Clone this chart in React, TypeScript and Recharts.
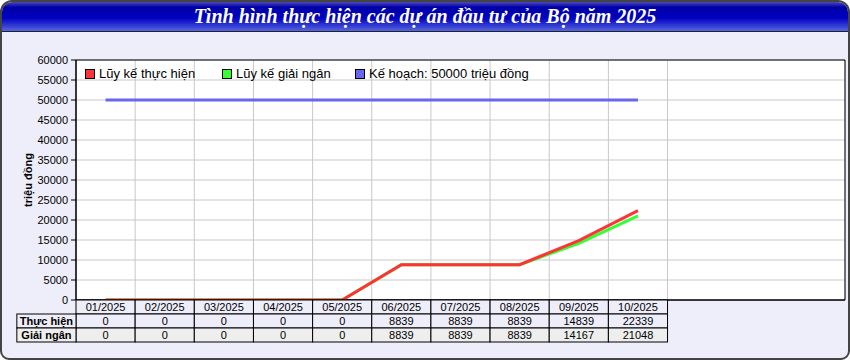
import React from "react";
import {
  LineChart,
  Line,
  XAxis,
  YAxis,
  CartesianGrid,
  Legend,
  ReferenceArea,
} from "recharts";

const months = [
  "01/2025",
  "02/2025",
  "03/2025",
  "04/2025",
  "05/2025",
  "06/2025",
  "07/2025",
  "08/2025",
  "09/2025",
  "10/2025",
];
const thucHien = [0, 0, 0, 0, 0, 8839, 8839, 8839, 14839, 22339];
const giaiNgan = [0, 0, 0, 0, 0, 8839, 8839, 8839, 14167, 21048];
const keHoach = [50000, 50000, 50000, 50000, 50000, 50000, 50000, 50000, 50000, 50000];
const yTicks = [0, 5000, 10000, 15000, 20000, 25000, 30000, 35000, 40000, 45000, 50000, 55000, 60000];

// 13 ô trên trục hoành, chỉ 10 ô đầu có dữ liệu (lưới dọc chỉ tới ô thứ 10)
const SLOTS = 13;
const slotTicks = Array.from({ length: months.length + 1 }, (_, i) => i);

const W = 850;
const H = 360;
const PLOT_LEFT = 76;
const PLOT_RIGHT = 845;
const COL_W = (PLOT_RIGHT - PLOT_LEFT) / SLOTS;
const ROW_H = 14;

const BG = "#eeeefa";
const ROW_GRAY = "#eeeeee";
const FONT = "'Liberation Sans', Arial, sans-serif";

const chartData = months.map((m, i) => ({
  pos: i + 0.5,
  month: m,
  thucHien: thucHien[i],
  giaiNgan: giaiNgan[i],
  keHoach: keHoach[i],
}));

const legendItems = [
  { label: "Lũy kế thực hiện", color: "#ff3333" },
  { label: "Lũy kế giải ngân", color: "#33ff33" },
  { label: "Kế hoạch: 50000 triệu đồng", color: "#6666ee" },
];

const LegendBox = () => (
  <div style={{ display: "flex", fontFamily: FONT, fontSize: 13, color: "#000", lineHeight: "14px" }}>
    {legendItems.map((it, i) => (
      <div
        key={it.label}
        style={{
          display: "flex",
          alignItems: "center",
          width: i === 0 ? 137 : i === 1 ? 133 : "auto",
          whiteSpace: "nowrap",
        }}
      >
        <span
          style={{
            display: "inline-block",
            width: 8,
            height: 8,
            background: it.color,
            border: "1px solid #000",
            marginRight: 4,
          }}
        />
        {it.label}
      </div>
    ))}
  </div>
);

// Bảng số liệu dưới trục hoành, vẽ theo vị trí tick của trục
const TableTick = (props: any) => {
  const { x, y, payload } = props;
  const k = payload.value as number;
  if (k >= months.length) return null;
  const cell = (cx: number, cy: number, w: number, fill: string, text: string, bold = false) => (
    <g>
      <rect x={cx} y={cy} width={w} height={ROW_H} fill={fill} stroke="#000" strokeWidth={1} />
      <text
        x={cx + w / 2}
        y={cy + ROW_H - 3}
        textAnchor="middle"
        fontFamily={FONT}
        fontSize={11}
        fontWeight={bold ? "bold" : "normal"}
        fill="#000"
      >
        {text}
      </text>
    </g>
  );
  return (
    <g>
      {cell(x, y, COL_W, BG, months[k])}
      {cell(x, y + ROW_H, COL_W, BG, String(thucHien[k]))}
      {cell(x, y + ROW_H * 2, COL_W, ROW_GRAY, String(giaiNgan[k]))}
      {k === 0 && cell(x - COL_W, y + ROW_H, COL_W, BG, "Thực hiện", true)}
      {k === 0 && cell(x - COL_W, y + ROW_H * 2, COL_W, ROW_GRAY, "Giải ngân", true)}
    </g>
  );
};

const App = () => {
  return (
    <div
      style={{
        position: "absolute",
        left: 0,
        top: 0,
        width: W,
        height: H,
        boxSizing: "border-box",
        border: "2px solid #444",
        borderRadius: "12px 12px 9px 9px",
        background: BG,
        overflow: "hidden",
      }}
    >
      <div
        style={{
          position: "absolute",
          left: 0,
          top: 0,
          right: 0,
          height: 29,
          borderBottom: "1px solid #222",
          background:
            "linear-gradient(to bottom, #4a4ab8 0%, #0000a8 18%, #0000c0 55%, #5566e0 100%)",
          color: "#fff",
          textAlign: "center",
          fontFamily: "'Liberation Serif', 'Times New Roman', serif",
          fontStyle: "italic",
          fontWeight: "bold",
          fontSize: 20,
          lineHeight: "29px",
        }}
      >
        Tình hình thực hiện các dự án đầu tư của Bộ năm 2025
      </div>
      <div style={{ position: "absolute", left: -2, top: -2 }}>
        <LineChart
          width={W}
          height={H}
          data={chartData}
          margin={{ top: 60, right: W - PLOT_RIGHT, bottom: 0, left: 16 }}
        >
          <CartesianGrid fill="#fff" stroke="#c8c8c8" strokeWidth={1} />
          <XAxis
            dataKey="pos"
            type="number"
            domain={[0, SLOTS]}
            ticks={slotTicks}
            interval={0}
            height={60}
            axisLine={{ stroke: "#000" }}
            tickLine={false}
            tickSize={0}
            tickMargin={0}
            tick={<TableTick />}
          />
          <YAxis
            domain={[0, 60000]}
            ticks={yTicks}
            interval={0}
            width={60}
            axisLine={{ stroke: "#000" }}
            tickLine={{ stroke: "#000" }}
            tickSize={5}
            tickMargin={3}
            tick={{ fontFamily: FONT, fontSize: 11, fill: "#000" }}
            label={{
              value: "triệu đồng",
              angle: -90,
              position: "insideLeft",
              offset: 12,
              style: { textAnchor: "middle", fontFamily: FONT, fontSize: 11, fontWeight: "bold", fill: "#000" },
            }}
          />
          <ReferenceArea x1={0} x2={SLOTS} y1={0} y2={60000} fill="none" stroke="#000" strokeWidth={1} />
          <Legend
            layout="horizontal"
            verticalAlign="middle"
            align="center"
            content={<LegendBox />}
            wrapperStyle={{ position: "absolute", left: 85, top: 67, width: "auto" }}
          />
          <Line
            dataKey="keHoach"
            stroke="#6666ee"
            strokeWidth={3}
            dot={false}
            isAnimationActive={false}
          />
          <Line
            dataKey="giaiNgan"
            stroke="#33ff33"
            strokeWidth={3}
            dot={false}
            isAnimationActive={false}
          />
          <Line
            dataKey="thucHien"
            stroke="#ff3333"
            strokeWidth={3}
            dot={false}
            isAnimationActive={false}
          />
        </LineChart>
      </div>
    </div>
  );
};

export default App;
